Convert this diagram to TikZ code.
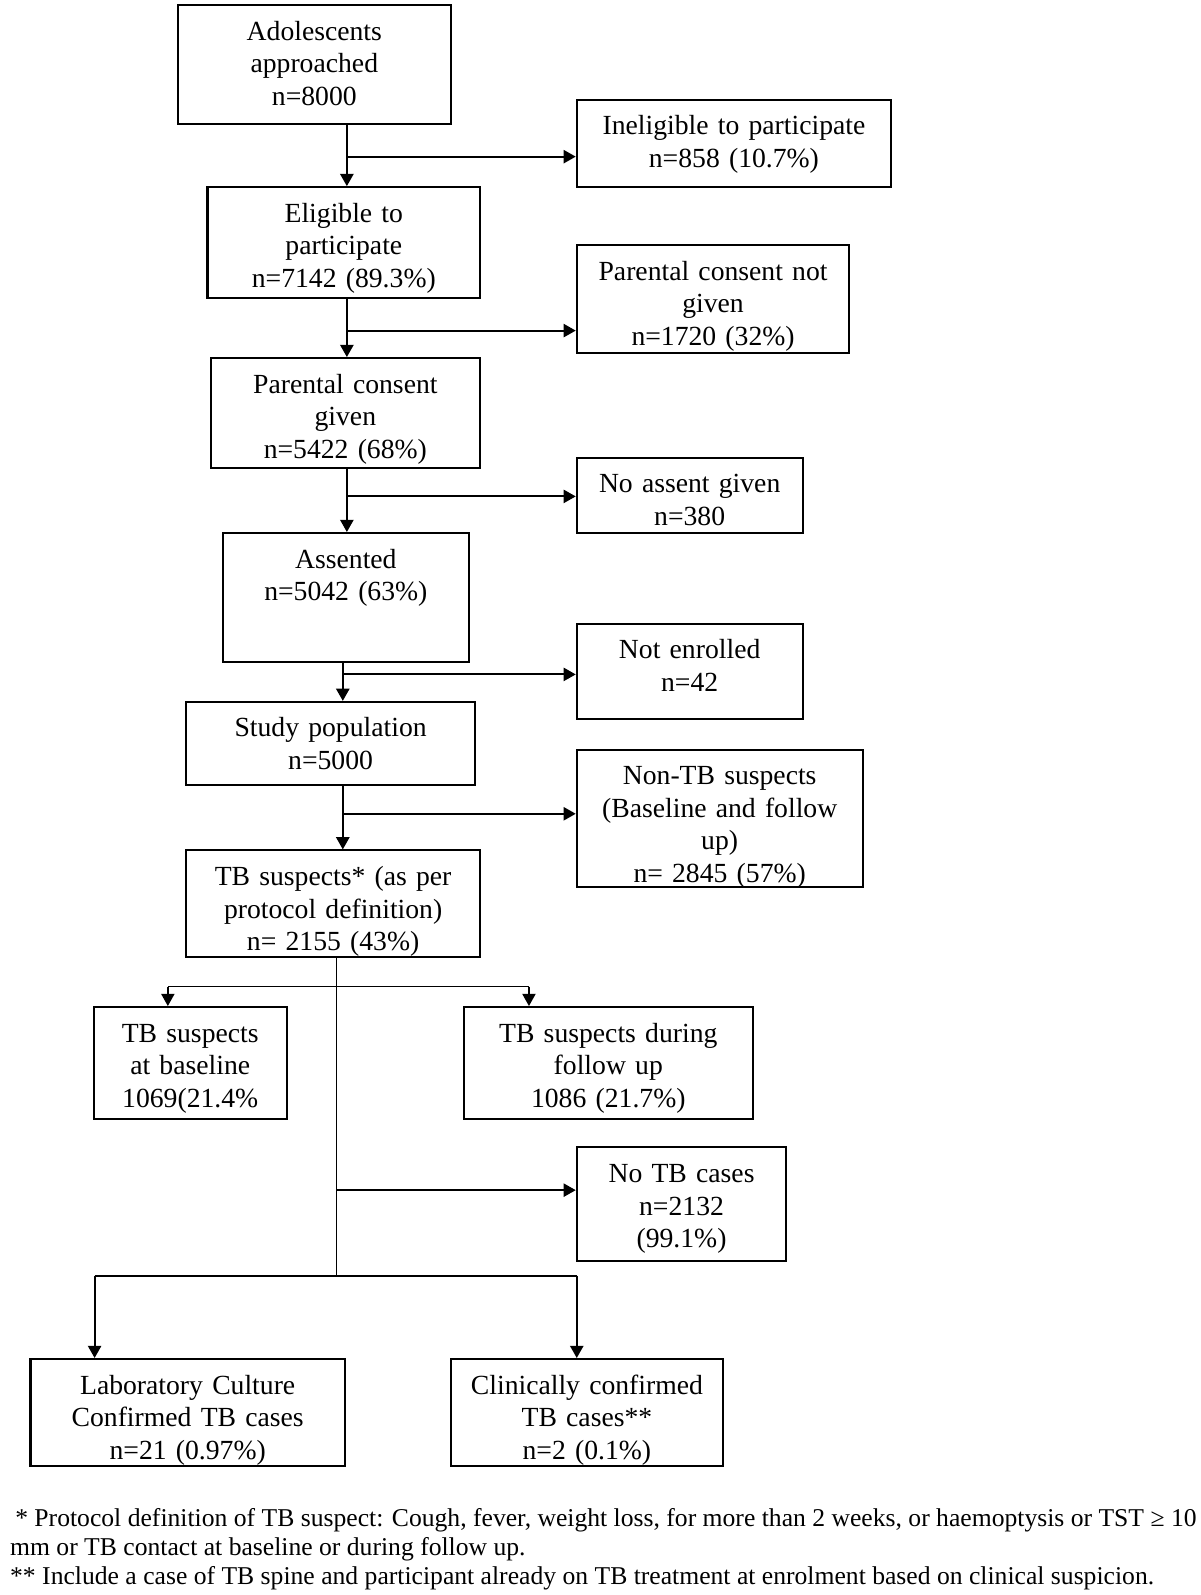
\documentclass[tikz,border=0pt]{standalone}
\usepackage{fontspec}
\setmainfont{Liberation Serif}
\usepackage{tikz}
\usetikzlibrary{arrows.meta}

\begin{document}
\begin{tikzpicture}[x=0.5pt,y=-0.5pt,>={Triangle[length=6pt,width=6.5pt]},
                    line width=1pt]
  \tikzstyle{box}=[draw,rectangle,align=center,inner sep=0pt,text height=17.25pt,
                   font=\fontsize{13.6pt}{16pt}\selectfont]
  \tikzstyle{note}=[anchor=base west,inner sep=0pt,
                    font=\fontsize{12.6pt}{14.5pt}\selectfont]

  \useasboundingbox (0,0) rectangle (1180,1568);

  % main column
  \node[box,text width=134pt,text depth=41.25pt] (appr) at (309,63.5)
       {Adolescents\\approached\\n=8000};
  \node[box,text width=134pt,text depth=37.25pt] (elig) at (338,238.5)
       {Eligible to\\participate\\n=7142 (89.3\%)};
  \node[box,text width=132.5pt,text depth=36.75pt] (cons) at (339.5,406)
       {Parental consent\\given\\n=5422 (68\%)};
  \node[box,text width=121pt,text depth=46.25pt] (ass) at (340,587.5)
       {Assented\\n=5042 (63\%)};
  \node[box,text width=142pt,text depth=23.75pt] (pop) at (325,731)
       {Study population\\n=5000};
  \node[box,text width=144.5pt,text depth=35.25pt] (susp) at (327.5,888.5)
       {TB suspects* (as per\\protocol definition)\\n= 2155 (43\%)};

  % exclusions
  \node[box,text width=154.5pt,text depth=25.75pt] (inel) at (721.5,141)
       {Ineligible to participate\\n=858 (10.7\%)};
  \node[box,text width=134pt,text depth=35.75pt] (nocons) at (701,294)
       {Parental consent not\\given\\n=1720 (32\%)};
  \node[box,text width=111pt,text depth=19.75pt] (noass) at (678,487)
       {No assent given\\n=380};
  \node[box,text width=111pt,text depth=29.75pt] (notenr) at (678,660)
       {Not enrolled\\n=42};
  \node[box,text width=140.5pt,text depth=50.25pt] (nontb) at (707.5,804.5)
       {Non-TB suspects\\(Baseline and follow\\up)\\n= 2845 (57\%)};

  % lower part
  \node[box,text width=95pt,text depth=37.75pt] (base) at (187,1045)
       {TB suspects\\at baseline\\1069(21.4\%};
  \node[box,text width=142pt,text depth=37.75pt] (fu) at (598,1045)
       {TB suspects during\\follow up\\1086 (21.7\%)};
  \node[box,text width=103pt,text depth=38.75pt] (notb) at (670,1184)
       {No TB cases\\n=2132\\(99.1\%)};
  \node[box,text width=154.5pt,text depth=35.25pt] (lab) at (184.5,1388.5)
       {Laboratory Culture\\Confirmed TB cases\\n=21 (0.97\%)};
  \node[box,text width=134pt,text depth=35.25pt] (clin) at (577,1388.5)
       {Clinically confirmed\\TB cases**\\n=2 (0.1\%)};

  % branch points
  \coordinate (t1) at (341,154);
  \coordinate (t2) at (341,325);
  \coordinate (t3) at (341,488);
  \coordinate (t4) at (337,663);
  \coordinate (t5) at (337,800);
  \coordinate (t6) at (331,970);
  \coordinate (t7) at (331,1170);
  \coordinate (t8) at (331,1254);
  \coordinate (b1) at (165,970);
  \coordinate (b2) at (520,970);
  \coordinate (c1) at (93,1254);
  \coordinate (c2) at (567,1254);

  \draw[->] (appr.south -| t1) -- (elig.north -| t1);
  \draw[->] (t1) -- (t1 -| inel.west);
  \draw[->] (elig.south -| t2) -- (cons.north -| t2);
  \draw[->] (t2) -- (t2 -| nocons.west);
  \draw[->] (cons.south -| t3) -- (ass.north -| t3);
  \draw[->] (t3) -- (t3 -| noass.west);
  \draw[->] (ass.south -| t4) -- (pop.north -| t4);
  \draw[->] (t4) -- (t4 -| notenr.west);
  \draw[->] (pop.south -| t5) -- (susp.north -| t5);
  \draw[->] (t5) -- (t5 -| nontb.west);

  \draw[line width=0.6pt] (susp.south -| t6) -- (t8);
  \draw[line width=0.7pt] (b1) -- (b2);
  \draw[->,line width=0.7pt] (b1) -- (b1 |- base.north);
  \draw[->,line width=0.7pt] (b2) -- (b2 |- fu.north);
  \draw[->] (t7) -- (t7 -| notb.west);
  \draw (c1) -- (c2);
  \draw[->] (c1) -- (c1 |- lab.north);
  \draw[->] (c2) -- (c2 |- clin.north);

  % footnotes
  \node[note] (note1) at (14,1501)
       {* Protocol definition of TB suspect: Cough, fever, weight loss, for more than 2 weeks, or haemoptysis or TST ≥ 10};
  \node[note] (note2) at (9,1529)
       {mm or TB contact at baseline or during follow up.};
  \node[note] (note3) at (9,1558)
       {** Include a case of TB spine and participant already on TB treatment at enrolment based on clinical suspicion.};
\end{tikzpicture}
\end{document}
